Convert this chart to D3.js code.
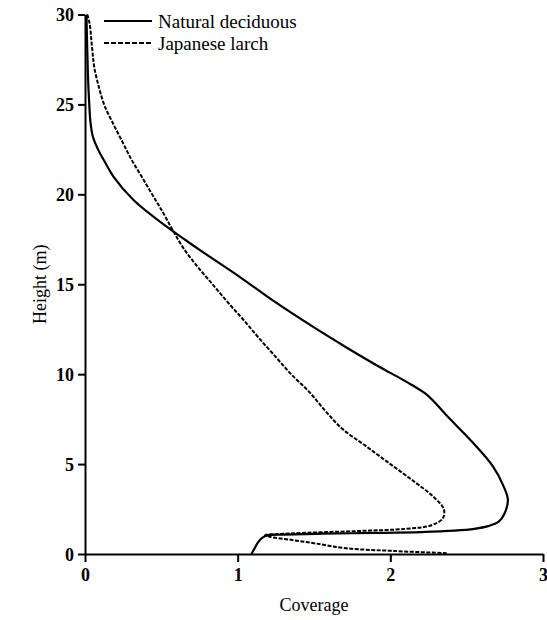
<!DOCTYPE html>
<html lang="en">

<head>
    <meta charset="UTF-8">
    <title>Coverage by height</title>
    <script src="https://d3js.org/d3.v7.min.js"></script>
    <style>
        body {
            margin: 0;
            background-color: white;
        }

        text {
            font-family: "Liberation Serif", "Times New Roman", serif;
            fill: black;
        }
    </style>
</head>

<body>
    <script>
        // series: height (m) -> coverage, top to bottom
        var naturalHeight = [30, 29, 28, 27, 26, 25, 24, 23.2, 22.5, 21.8, 21, 19.7, 18.2, 16.9, 15.4, 14.1, 12.6, 11.5, 10.4, 9.6, 8.85, 7.6, 6.2, 4.9, 3.8, 3.0, 2.2, 1.8, 1.55, 1.4, 1.3, 1.22, 1.17, 1.13, 1.08, 1.05, 0.9, 0.6, 0.3, 0]
        var naturalCoverage = [0.01, 0.012, 0.015, 0.018, 0.022, 0.028, 0.036, 0.052, 0.085, 0.13, 0.185, 0.316, 0.535, 0.753, 1.015, 1.23, 1.5, 1.71, 1.93, 2.1, 2.24, 2.38, 2.54, 2.67, 2.74, 2.77, 2.745, 2.71, 2.64, 2.55, 2.42, 2.2, 1.9, 1.55, 1.3, 1.2, 1.16, 1.13, 1.11, 1.09]

        var larchHeight = [30, 29.5, 28, 27, 26, 25, 24, 23, 22, 21, 20, 19, 18, 17, 16, 15, 14, 13, 12, 11, 10, 9, 8, 7, 6, 5, 4, 3.2, 2.5, 2.0, 1.6, 1.4, 1.28, 1.18, 1.1, 1.06, 0.96, 0.8, 0.6, 0.32, 0.17, 0.04]
        var larchCoverage = [0.015, 0.03, 0.048, 0.062, 0.09, 0.125, 0.18, 0.24, 0.3, 0.37, 0.44, 0.51, 0.575, 0.645, 0.735, 0.835, 0.935, 1.04, 1.14, 1.245, 1.35, 1.47, 1.57, 1.68, 1.84, 2.0, 2.16, 2.28, 2.35, 2.345, 2.27, 2.1, 1.8, 1.45, 1.25, 1.18, 1.21, 1.34, 1.5, 1.71, 2.02, 2.38]

        var seriesNames = ["Natural deciduous", "Japanese larch"]
        var xTicks = [0, 1, 2, 3]
        var yTicks = [0, 5, 10, 15, 20, 25, 30]

        var svgWidth = 547
        var svgHeight = 620
        var plotLeft = 85
        var plotRight = 543
        var plotTop = 14.5
        var plotBottom = 554

        var svg = d3.select("body")
            .append("svg")
            .attr("width", svgWidth)
            .attr("height", svgHeight)

        var x = d3.scaleLinear().domain([0, 3]).range([plotLeft, plotRight])
        var y = d3.scaleLinear().domain([0, 30]).range([plotBottom, plotTop])

        var xAxis = svg.append("g")
            .attr("transform", "translate(0," + plotBottom + ")")
            .call(d3.axisBottom(x).tickValues(xTicks).tickFormat(d3.format("d")).tickSize(8).tickSizeOuter(0).tickPadding(6))
        var yAxis = svg.append("g")
            .attr("transform", "translate(" + plotLeft + ",0)")
            .call(d3.axisLeft(y).tickValues(yTicks).tickFormat(d3.format("d")).tickSize(7).tickSizeOuter(0).tickPadding(4))

        svg.selectAll(".domain, .tick line")
            .attr("stroke", "black")
            .attr("stroke-width", 2)
        svg.selectAll(".tick text")
            .style("font-family", "'Liberation Serif', serif")
            .style("font-size", "18px")
            .style("font-weight", "bold")
            .attr("fill", "black")
        yAxis.selectAll(".tick text").attr("dy", "0.36em")

        svg.append("text")
            .text("Coverage")
            .attr("x", (plotLeft + plotRight) / 2)
            .attr("y", 611)
            .attr("text-anchor", "middle")
            .style("font-size", "18px")

        svg.append("text")
            .text("Height (m)")
            .attr("transform", "translate(46," + y(15) + ") rotate(-90)")
            .attr("text-anchor", "middle")
            .style("font-size", "18px")

        var line = d3.line()
            .x(function (d) { return x(d[1]) })
            .y(function (d) { return y(d[0]) })
            .curve(d3.curveCatmullRom.alpha(0.5))

        var naturalData = d3.zip(naturalHeight, naturalCoverage)
        var larchData = d3.zip(larchHeight, larchCoverage)

        svg.append("path")
            .datum(naturalData)
            .attr("d", line)
            .attr("fill", "none")
            .attr("stroke", "black")
            .attr("stroke-width", 2.2)

        svg.append("path")
            .datum(larchData)
            .attr("d", line)
            .attr("fill", "none")
            .attr("stroke", "black")
            .attr("stroke-width", 2)
            .attr("stroke-dasharray", "4,1.5")

        // legend
        var legend = svg.append("g")
        seriesNames.forEach(function (name, i) {
            var ly = 21 + i * 22
            legend.append("line")
                .attr("x1", 104)
                .attr("x2", 152)
                .attr("y1", ly)
                .attr("y2", ly)
                .attr("stroke", "black")
                .attr("stroke-width", 2)
                .attr("stroke-dasharray", i == 0 ? null : "5,2")
            legend.append("text")
                .text(name)
                .attr("x", 158)
                .attr("y", ly + 6.5)
                .style("font-size", "19px")
        })
    </script>
</body>

</html>
